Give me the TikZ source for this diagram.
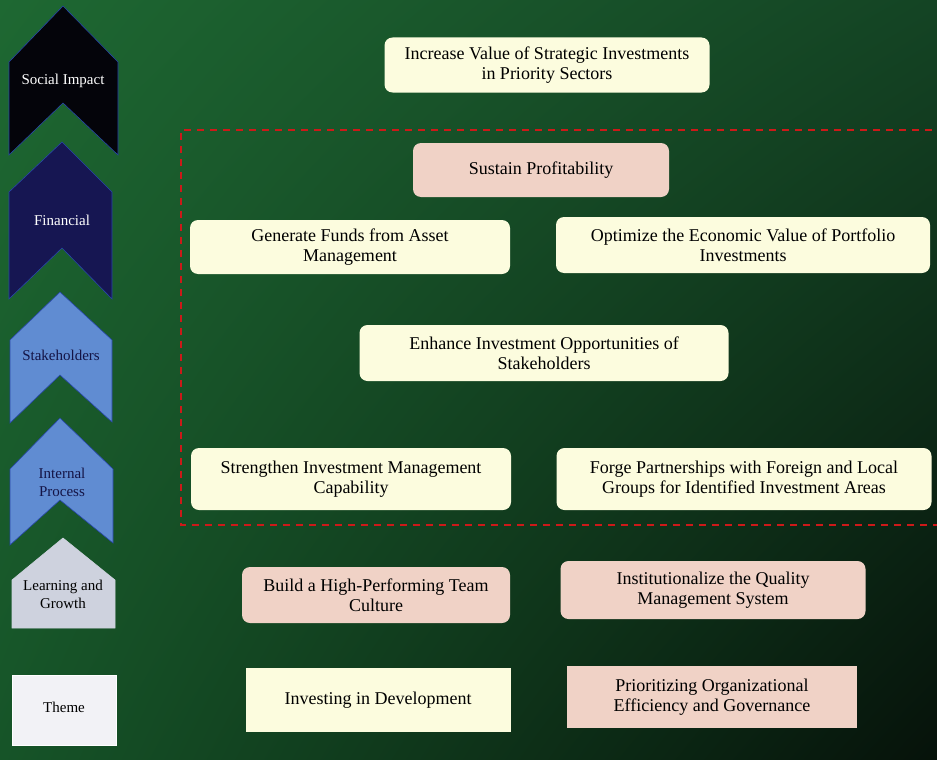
\documentclass[tikz,border=0pt]{standalone}
\usepackage{fontspec}
\setmainfont{Liberation Serif}
\usetikzlibrary{positioning,shadings}

\definecolor{bgul}{RGB}{30,104,50}
\definecolor{bgur}{RGB}{20,68,36}
\definecolor{bgll}{RGB}{22,84,40}
\definecolor{bglr}{RGB}{6,18,10}
\definecolor{goalyellow}{RGB}{252,252,222}
\definecolor{goalpink}{RGB}{240,210,198}
\definecolor{chevedge}{RGB}{40,70,170}
\definecolor{socialcol}{RGB}{4,4,10}
\definecolor{fincol}{RGB}{22,22,82}
\definecolor{stakecol}{RGB}{96,140,210}
\definecolor{learncol}{RGB}{206,210,222}
\definecolor{themecol}{RGB}{242,242,246}
\definecolor{navytext}{RGB}{20,20,70}
\definecolor{dashred}{RGB}{205,25,25}

\tikzset{
  goal/.style={rounded corners=8pt,fill=goalyellow,align=center,inner sep=0pt,
    font=\fontsize{18}{20.5}\selectfont},
  goalpk/.style={goal,fill=goalpink},
  themebox/.style={goal,rounded corners=0pt},
  layer/.style={draw=chevedge,line width=0.6pt},
  layertext/.style={align=center,font=\fontsize{15}{18}\selectfont}
}

\begin{document}
\begin{tikzpicture}[x=1pt,y=-1pt]
\useasboundingbox (0,0) rectangle (937,760);
\shade[upper left=bgul,upper right=bgur,lower left=bgll,lower right=bglr] (0,0) rectangle (937,760);

% perspective chevrons
\draw [layer,fill=socialcol] (9,155)--(9,62)--(63,6)--(118,62)--(118,155)--(63,103)--cycle;
\draw [layer,fill=fincol] (9,299)--(9,192)--(62,142)--(112,192)--(112,299)--(62,248)--cycle;
\draw [layer,fill=stakecol] (10,423)--(10,340)--(60,292)--(112,340)--(112,422)--(60,375)--cycle;
\draw [layer,fill=stakecol] (10,545)--(10,469)--(60,418)--(113,469)--(113,543)--(60,500)--cycle;
\draw [draw=learncol,line width=0.6pt,fill=learncol] (12,628)--(12,580)--(63,538)--(115,580)--(115,628)--cycle;
\draw [draw=white,line width=0.6pt,fill=themecol] (12,675) rectangle (116,745);

\node[layertext,text=white] (lsocial) at (63,81) {Social Impact};
\node[layertext,text=white] (lfinancial) at (62,220) {Financial};
\node[layertext,text=navytext] (lstake) at (61,355) {Stakeholders};
\node[layertext,text=navytext] (linternal) at (62,482) {Internal\\Process};
\node[layertext] (llearning) at (63,594) {Learning and\\Growth};
\node[layertext] (ltheme) at (64,707) {Theme};

% dashed frame
\draw [draw=dashred,line width=1.5pt,dash pattern=on 7pt off 6pt] (945,130)--(181,130)--(181,525)--(945,525);

% objectives
\node[goal,minimum width=325,minimum height=55] (incrval) at (547,65) {Increase Value of Strategic Investments\\in Priority Sectors};
\node[goalpk,minimum width=256,minimum height=54] (sustain) at (541,170) {Sustain Profitability};
\node[goal,minimum width=320,minimum height=54] (genfunds) at (350,247) {Generate Funds from Asset\\Management};
\node[goal,minimum width=374,minimum height=56] (optimize) at (743,245) {Optimize the Economic Value of Portfolio\\Investments};
\node[goal,minimum width=369,minimum height=56] (enhance) at (544,353) {Enhance Investment Opportunities of\\Stakeholders};
\node[goal,minimum width=320,minimum height=62] (strengthen) at (351,479) {Strengthen Investment Management\\Capability};
\node[goal,minimum width=375,minimum height=62] (forge) at (744,479) {Forge Partnerships with Foreign and Local\\Groups for Identified Investment Areas};
\node[goalpk,minimum width=268,minimum height=56] (buildteam) at (376,595) {Build a High-Performing Team\\Culture};
\node[goalpk,minimum width=305,minimum height=58] (institut) at (713,590) {Institutionalize the Quality\\Management System};

% themes
\node[themebox,minimum width=265,minimum height=64] (investdev) at (378,700) {Investing in Development};
\node[themebox,fill=goalpink,minimum width=290,minimum height=62] (prioritize) at (712,697) {Prioritizing Organizational\\Efficiency and Governance};
\end{tikzpicture}
\end{document}
